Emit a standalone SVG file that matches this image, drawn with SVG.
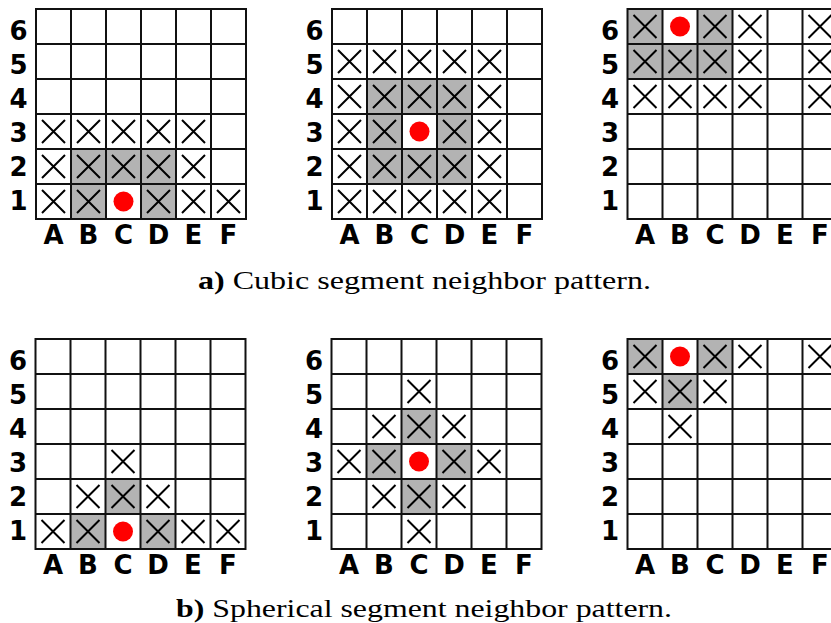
<svg xmlns="http://www.w3.org/2000/svg" xmlns:xlink="http://www.w3.org/1999/xlink" width="831" height="623" viewBox="0 0 831 623">
<style>
.lbl{font-family:"DejaVu Sans","Liberation Sans",sans-serif;font-weight:bold;font-size:26px;fill:#000;text-anchor:middle}
.gl{fill:none;stroke:#111;stroke-width:2}
.g{fill:#b3b3b3}
.x{fill:none;stroke:#000;stroke-width:2}
.dot{fill:#ff0000}
.cap{font-family:"Liberation Serif","DejaVu Serif",serif;font-size:25px;fill:#000}
.capb{font-weight:bold}
</style>
<defs>
<path id="grid" class="gl" d="M0,0H210V210H0Z M35,0V210 M70,0V210 M105,0V210 M140,0V210 M175,0V210 M0,35H210 M0,70H210 M0,105H210 M0,140H210 M0,175H210"/>
<path id="x" class="x" d="M-11.5,-11.5L11.5,11.5M11.5,-11.5L-11.5,11.5"/>
<circle id="dot" class="dot" r="10"/>
<g id="labels">
<text class="lbl" x="-17.5" y="30.5">6</text>
<text class="lbl" x="-17.5" y="64.5">5</text>
<text class="lbl" x="-17.5" y="99">4</text>
<text class="lbl" x="-17.5" y="132.5">3</text>
<text class="lbl" x="-17.5" y="167">2</text>
<text class="lbl" x="-17.5" y="201">1</text>
<text class="lbl" x="17.5" y="235">A</text>
<text class="lbl" x="52.5" y="235">B</text>
<text class="lbl" x="87.5" y="235">C</text>
<text class="lbl" x="122.5" y="235">D</text>
<text class="lbl" x="157.5" y="235">E</text>
<text class="lbl" x="192.5" y="235">F</text>
</g>
</defs>

<g id="connectors"></g>

<g id="grid-a1" transform="translate(36,9)">
<rect class="g" x="35" y="140" width="35" height="35"/>
<rect class="g" x="70" y="140" width="35" height="35"/>
<rect class="g" x="105" y="140" width="35" height="35"/>
<rect class="g" x="35" y="175" width="35" height="35"/>
<rect class="g" x="105" y="175" width="35" height="35"/>
<use href="#grid"/>
<use href="#x" x="17.5" y="122.5"/><use href="#x" x="52.5" y="122.5"/><use href="#x" x="87.5" y="122.5"/><use href="#x" x="122.5" y="122.5"/><use href="#x" x="157.5" y="122.5"/>
<use href="#x" x="17.5" y="157.5"/><use href="#x" x="52.5" y="157.5"/><use href="#x" x="87.5" y="157.5"/><use href="#x" x="122.5" y="157.5"/><use href="#x" x="157.5" y="157.5"/>
<use href="#x" x="17.5" y="192.5"/><use href="#x" x="52.5" y="192.5"/><use href="#x" x="122.5" y="192.5"/><use href="#x" x="157.5" y="192.5"/><use href="#x" x="192.5" y="192.5"/>
<use href="#dot" x="87.5" y="192.5"/>
<use href="#labels"/>
</g>

<g id="grid-a2" transform="translate(332,9)">
<rect class="g" x="35" y="70" width="35" height="35"/>
<rect class="g" x="70" y="70" width="35" height="35"/>
<rect class="g" x="105" y="70" width="35" height="35"/>
<rect class="g" x="35" y="105" width="35" height="35"/>
<rect class="g" x="105" y="105" width="35" height="35"/>
<rect class="g" x="35" y="140" width="35" height="35"/>
<rect class="g" x="70" y="140" width="35" height="35"/>
<rect class="g" x="105" y="140" width="35" height="35"/>
<use href="#grid"/>
<use href="#x" x="17.5" y="52.5"/><use href="#x" x="52.5" y="52.5"/><use href="#x" x="87.5" y="52.5"/><use href="#x" x="122.5" y="52.5"/><use href="#x" x="157.5" y="52.5"/>
<use href="#x" x="17.5" y="87.5"/><use href="#x" x="52.5" y="87.5"/><use href="#x" x="87.5" y="87.5"/><use href="#x" x="122.5" y="87.5"/><use href="#x" x="157.5" y="87.5"/>
<use href="#x" x="17.5" y="122.5"/><use href="#x" x="52.5" y="122.5"/><use href="#x" x="122.5" y="122.5"/><use href="#x" x="157.5" y="122.5"/>
<use href="#x" x="17.5" y="157.5"/><use href="#x" x="52.5" y="157.5"/><use href="#x" x="87.5" y="157.5"/><use href="#x" x="122.5" y="157.5"/><use href="#x" x="157.5" y="157.5"/>
<use href="#x" x="17.5" y="192.5"/><use href="#x" x="52.5" y="192.5"/><use href="#x" x="87.5" y="192.5"/><use href="#x" x="122.5" y="192.5"/><use href="#x" x="157.5" y="192.5"/>
<use href="#dot" x="87.5" y="122.5"/>
<use href="#labels"/>
</g>

<g id="grid-a3" transform="translate(627.5,9)">
<rect class="g" x="0" y="0" width="35" height="35"/>
<rect class="g" x="70" y="0" width="35" height="35"/>
<rect class="g" x="0" y="35" width="35" height="35"/>
<rect class="g" x="35" y="35" width="35" height="35"/>
<rect class="g" x="70" y="35" width="35" height="35"/>
<use href="#grid"/>
<use href="#x" x="17.5" y="17.5"/><use href="#x" x="87.5" y="17.5"/><use href="#x" x="122.5" y="17.5"/><use href="#x" x="192.5" y="17.5"/>
<use href="#x" x="17.5" y="52.5"/><use href="#x" x="52.5" y="52.5"/><use href="#x" x="87.5" y="52.5"/><use href="#x" x="122.5" y="52.5"/><use href="#x" x="192.5" y="52.5"/>
<use href="#x" x="17.5" y="87.5"/><use href="#x" x="52.5" y="87.5"/><use href="#x" x="87.5" y="87.5"/><use href="#x" x="122.5" y="87.5"/><use href="#x" x="192.5" y="87.5"/>
<use href="#dot" x="52.5" y="17.5"/>
<use href="#labels"/>
</g>

<g id="caption-a">
<text class="cap" x="198" y="289" textLength="453" lengthAdjust="spacingAndGlyphs"><tspan class="capb">a)</tspan> Cubic segment neighbor pattern.</text>
</g>

<g id="grid-b1" transform="translate(35.5,339)">
<rect class="g" x="70" y="140" width="35" height="35"/>
<rect class="g" x="35" y="175" width="35" height="35"/>
<rect class="g" x="105" y="175" width="35" height="35"/>
<use href="#grid"/>
<use href="#x" x="87.5" y="122.5"/>
<use href="#x" x="52.5" y="157.5"/><use href="#x" x="87.5" y="157.5"/><use href="#x" x="122.5" y="157.5"/>
<use href="#x" x="17.5" y="192.5"/><use href="#x" x="52.5" y="192.5"/><use href="#x" x="122.5" y="192.5"/><use href="#x" x="157.5" y="192.5"/><use href="#x" x="192.5" y="192.5"/>
<use href="#dot" x="87.5" y="192.5"/>
<use href="#labels"/>
</g>

<g id="grid-b2" transform="translate(331.5,339)">
<rect class="g" x="70" y="70" width="35" height="35"/>
<rect class="g" x="35" y="105" width="35" height="35"/>
<rect class="g" x="105" y="105" width="35" height="35"/>
<rect class="g" x="70" y="140" width="35" height="35"/>
<use href="#grid"/>
<use href="#x" x="87.5" y="52.5"/>
<use href="#x" x="52.5" y="87.5"/><use href="#x" x="87.5" y="87.5"/><use href="#x" x="122.5" y="87.5"/>
<use href="#x" x="17.5" y="122.5"/><use href="#x" x="52.5" y="122.5"/><use href="#x" x="122.5" y="122.5"/><use href="#x" x="157.5" y="122.5"/>
<use href="#x" x="52.5" y="157.5"/><use href="#x" x="87.5" y="157.5"/><use href="#x" x="122.5" y="157.5"/>
<use href="#x" x="87.5" y="192.5"/>
<use href="#dot" x="87.5" y="122.5"/>
<use href="#labels"/>
</g>

<g id="grid-b3" transform="translate(627.5,339)">
<rect class="g" x="0" y="0" width="35" height="35"/>
<rect class="g" x="70" y="0" width="35" height="35"/>
<rect class="g" x="35" y="35" width="35" height="35"/>
<use href="#grid"/>
<use href="#x" x="17.5" y="17.5"/><use href="#x" x="87.5" y="17.5"/><use href="#x" x="122.5" y="17.5"/><use href="#x" x="192.5" y="17.5"/>
<use href="#x" x="17.5" y="52.5"/><use href="#x" x="52.5" y="52.5"/><use href="#x" x="87.5" y="52.5"/>
<use href="#x" x="52.5" y="87.5"/>
<use href="#dot" x="52.5" y="17.5"/>
<use href="#labels"/>
</g>

<g id="caption-b">
<text class="cap" x="176" y="617" textLength="496" lengthAdjust="spacingAndGlyphs"><tspan class="capb">b)</tspan> Spherical segment neighbor pattern.</text>
</g>
</svg>
